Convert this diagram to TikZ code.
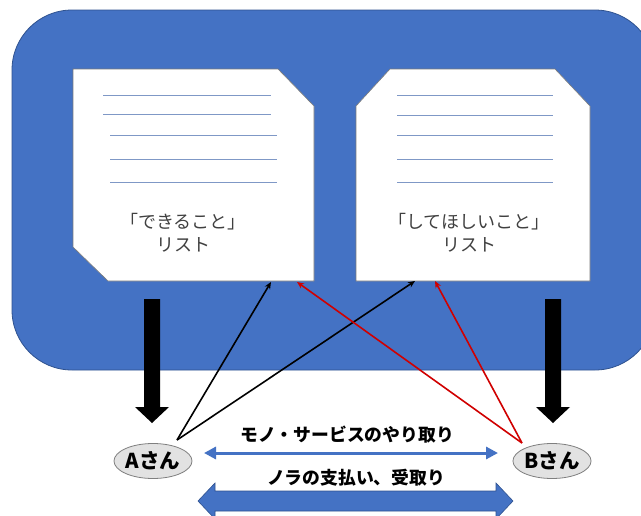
\documentclass[tikz,border=0pt]{standalone}
\usepackage{fontspec}
\setmainfont{Noto Sans CJK JP}
\usetikzlibrary{arrows.meta,shapes.geometric}
\definecolor{bgblue}{HTML}{4472C4}
\definecolor{bgedge}{HTML}{2F528F}
\definecolor{docline}{HTML}{7F98C6}
\definecolor{doctxt}{HTML}{404040}
\definecolor{pfill}{HTML}{E2E2E2}
\definecolor{pedge}{HTML}{7F7F7F}
\definecolor{redc}{HTML}{D00000}
\tikzset{
  docshape/.style={fill=white, draw=doctxt!70, line width=0.6pt},
  rule/.style={draw=docline, line width=1pt},
  doctext/.style={align=center, text=doctxt, font=\fontsize{18}{23}\selectfont, inner sep=0pt},
  person/.style={ellipse, fill=pfill, draw=pedge, line width=0.8pt, minimum width=78pt, minimum height=35pt, inner sep=0pt, font=\bfseries\fontsize{20.5}{22}\selectfont},
  lbl/.style={font=\bfseries\fontsize{17.8}{20}\selectfont, inner sep=0pt},
  blk/.style={draw=black, line width=1.6pt, -{Stealth[length=7pt,width=6pt]}},
  redl/.style={draw=redc, line width=1.6pt, -{Stealth[length=7pt,width=6pt]}},
  thickdown/.style={fill=black},
  thinblue/.style={draw=bgblue, line width=3pt, {Triangle[length=12pt,width=12pt]}-{Triangle[length=12pt,width=12pt]}},
  fatblue/.style={fill=bgblue, draw=bgedge, line width=0.6pt},
}
\begin{document}
\begin{tikzpicture}[x=1pt,y=-1pt]
\useasboundingbox (0,0) rectangle (641,515);
\fill[white] (0,0) rectangle (641,515);
\begin{scope}
\clip (0,0) rectangle (641,515);
\draw[fill=bgblue, draw=bgedge, line width=0.8pt, rounded corners=60pt] (12,10) rectangle (655,370);
\end{scope}
% documents
\draw[docshape] (73,69) -- (278,69) -- (314,106) -- (314,281) -- (108,281) -- (73,247) -- cycle;
\draw[docshape] (390,69) -- (555,69) -- (590,106) -- (590,281) -- (356,281) -- (356,106) -- cycle;
\draw[rule] (103,95) -- (271,95);
\draw[rule] (103,114) -- (271,114);
\draw[rule] (110,135) -- (277,135);
\draw[rule] (110,159) -- (277,159);
\draw[rule] (110,182) -- (277,182);
\draw[rule] (397,95) -- (553,95);
\draw[rule] (397,115) -- (553,115);
\draw[rule] (397,135) -- (553,135);
\draw[rule] (397,159) -- (553,159);
\draw[rule] (397,182) -- (553,182);
\node[doctext] (tL) at (183,233) {「できること」\\リスト};
\node[doctext] (tR) at (469,233) {「してほしいこと」\\リスト};
% thick down arrows
\fill[thickdown] (144,299) -- (160,299) -- (160,407) -- (169,407) -- (152,423) -- (135,407) -- (144,407) -- cycle;
\fill[thickdown] (545,299) -- (561,299) -- (561,407) -- (570,407) -- (553,423) -- (536,407) -- (545,407) -- cycle;
% persons
\node[person] (A) at (153,461) {Aさん};
\node[person] (B) at (552,461) {Bさん};
% connector endpoints
\coordinate (aS) at (177,440);
\coordinate (bS) at (522,443);
\coordinate (dL1) at (271,282);
\coordinate (dL2) at (297,282);
\coordinate (dR1) at (415,281);
\coordinate (dR2) at (435,281);
\draw[blk] (aS) -- (dL1);
\draw[blk] (aS) -- (dR1);
\draw[redl] (bS) -- (dL2);
\draw[redl] (bS) -- (dR2);
% exchange arrows
\coordinate (t1) at (204,453);
\coordinate (t2) at (498,453);
\draw[thinblue] (t1) -- (t2);
\node[lbl] (l1) at (347,435) {モノ・サービスのやり取り};
\node[lbl] (l2) at (356,478) {ノラの支払い、受取り};
\draw[fatblue] (198,501) -- (215,483) -- (215,491) -- (496,491) -- (496,483) -- (513,501) -- (496,519) -- (496,511) -- (215,511) -- (215,519) -- cycle;
\end{tikzpicture}
\end{document}
